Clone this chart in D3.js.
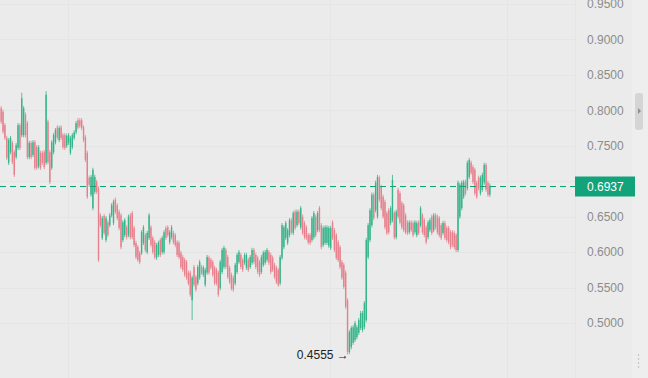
<!DOCTYPE html>
<html><head><meta charset="utf-8">
<script src="https://cdn.jsdelivr.net/npm/d3@7"></script>
<style>html,body{margin:0;padding:0;background:#ebebeb;}svg{display:block;}</style>
</head><body>
<svg id="chart" width="648" height="378"></svg>
<script>
const openP = [.803,.798,.779,.761,.726,.741,.754,.741,.734,.747,.779,.765,.765,.794,.782,.734,.754,.737,.755,.748,.721,.740,.740,.741,.726,.784,.741,.719,.741,.755,.776,.758,.776,.765,.765,.750,.754,.740,.748,.761,.769,.786,.786,.786,.776,.762,.740,.705,.681,.662,.685,.699,.690,.652,.620,.651,.617,.642,.638,.652,.641,.674,.666,.657,.652,.617,.624,.635,.624,.652,.655,.634,.613,.607,.599,.599,.613,.624,.600,.620,.635,.620,.614,.592,.596,.617,.600,.600,.634,.635,.614,.621,.627,.624,.614,.613,.599,.593,.589,.586,.571,.571,.532,.579,.565,.556,.564,.579,.568,.554,.571,.592,.589,.586,.578,.575,.571,.549,.572,.579,.603,.593,.578,.568,.564,.556,.572,.586,.596,.589,.585,.578,.589,.579,.585,.603,.596,.592,.586,.572,.582,.585,.589,.600,.596,.592,.582,.578,.575,.556,.592,.607,.620,.613,.624,.645,.627,.657,.638,.657,.635,.650,.641,.635,.624,.624,.617,.621,.650,.631,.662,.638,.610,.613,.613,.609,.606,.642,.631,.624,.614,.607,.586,.582,.571,.532,.459,.466,.472,.476,.480,.486,.493,.490,.494,.504,.593,.617,.638,.681,.659,.650,.705,.692,.678,.671,.655,.659,.641,.645,.655,.621,.688,.683,.669,.666,.652,.642,.628,.642,.641,.628,.624,.642,.638,.652,.645,.635,.621,.631,.650,.631,.652,.650,.648,.638,.627,.641,.634,.634,.628,.628,.627,.624,.603,.650,.662,.678,.699,.690,.706,.726,.720,.716,.698,.705,.683,.688,.698,.723,.698,.681];
const highP = [.806,.801,.782,.764,.761,.764,.757,.744,.754,.782,.782,.825,.806,.797,.785,.757,.757,.758,.758,.751,.751,.743,.743,.744,.827,.787,.744,.758,.768,.775,.779,.778,.779,.768,.768,.767,.768,.764,.768,.772,.785,.789,.789,.789,.779,.765,.743,.708,.709,.719,.709,.702,.693,.655,.651,.654,.651,.645,.655,.669,.674,.677,.669,.660,.655,.645,.648,.638,.653,.655,.658,.637,.616,.610,.602,.631,.638,.627,.630,.655,.638,.623,.617,.613,.616,.620,.623,.631,.637,.638,.631,.638,.630,.627,.617,.616,.602,.596,.592,.589,.574,.574,.567,.582,.568,.582,.589,.582,.581,.578,.596,.595,.592,.589,.581,.578,.574,.589,.606,.609,.606,.596,.581,.571,.567,.585,.599,.603,.599,.592,.599,.599,.592,.596,.606,.606,.599,.595,.589,.596,.602,.603,.606,.603,.599,.595,.585,.581,.578,.596,.641,.638,.644,.634,.648,.648,.658,.660,.660,.660,.665,.653,.644,.638,.627,.627,.651,.658,.653,.658,.665,.641,.637,.638,.638,.637,.637,.645,.634,.627,.617,.610,.589,.585,.574,.535,.490,.496,.497,.503,.497,.507,.517,.517,.531,.620,.641,.662,.684,.684,.701,.709,.708,.695,.681,.674,.658,.662,.665,.709,.658,.660,.691,.686,.672,.669,.655,.645,.645,.645,.644,.645,.644,.645,.665,.655,.648,.638,.645,.648,.653,.655,.655,.653,.651,.641,.644,.644,.637,.637,.631,.631,.630,.627,.701,.698,.701,.702,.702,.729,.733,.729,.723,.719,.701,.708,.708,.712,.726,.726,.701,.697];
const lowP = [.781,.767,.758,.730,.723,.738,.724,.706,.731,.744,.744,.762,.762,.762,.731,.731,.731,.734,.716,.716,.718,.716,.723,.717,.723,.724,.696,.716,.738,.752,.759,.755,.758,.745,.744,.747,.751,.737,.745,.758,.766,.773,.775,.772,.755,.727,.675,.692,.678,.659,.682,.682,.586,.635,.617,.624,.614,.621,.635,.649,.638,.654,.645,.631,.604,.614,.621,.618,.621,.618,.618,.607,.590,.586,.583,.596,.610,.600,.597,.617,.607,.597,.590,.589,.593,.593,.597,.597,.617,.621,.611,.618,.611,.607,.593,.590,.576,.572,.565,.561,.553,.537,.504,.551,.544,.553,.561,.568,.565,.551,.568,.568,.575,.565,.553,.553,.537,.546,.569,.576,.576,.562,.555,.546,.544,.553,.569,.583,.576,.572,.582,.575,.572,.576,.582,.583,.576,.569,.565,.569,.579,.582,.586,.582,.569,.572,.562,.555,.551,.553,.589,.604,.617,.610,.621,.625,.624,.631,.635,.638,.632,.624,.618,.617,.611,.610,.614,.618,.621,.628,.628,.604,.607,.610,.610,.606,.603,.617,.600,.589,.586,.576,.561,.548,.520,.4555,.456,.463,.469,.473,.477,.483,.490,.487,.491,.501,.590,.614,.635,.645,.656,.647,.671,.659,.647,.632,.624,.625,.638,.642,.618,.618,.647,.639,.632,.628,.625,.624,.625,.628,.621,.625,.621,.624,.635,.625,.621,.611,.618,.628,.624,.628,.632,.625,.621,.617,.624,.617,.614,.611,.604,.607,.604,.600,.600,.647,.659,.675,.680,.687,.703,.709,.696,.680,.675,.687,.680,.685,.695,.685,.678,.678];
const closeP = [.784,.770,.761,.733,.758,.761,.727,.709,.751,.779,.747,.817,.803,.765,.734,.754,.734,.755,.719,.719,.748,.719,.726,.720,.822,.727,.699,.755,.765,.772,.762,.775,.761,.748,.747,.764,.765,.761,.765,.769,.782,.776,.778,.775,.758,.730,.678,.695,.706,.716,.706,.685,.589,.638,.648,.627,.648,.624,.652,.666,.671,.657,.648,.634,.607,.642,.645,.621,.650,.621,.621,.610,.593,.589,.586,.628,.635,.603,.627,.652,.610,.600,.593,.610,.613,.596,.620,.628,.620,.624,.628,.635,.614,.610,.596,.593,.579,.575,.568,.564,.556,.540,.564,.554,.547,.579,.586,.571,.578,.575,.593,.571,.578,.568,.556,.556,.540,.586,.603,.606,.579,.565,.558,.549,.547,.582,.596,.600,.579,.575,.596,.596,.575,.593,.603,.586,.579,.572,.568,.593,.599,.600,.603,.585,.572,.575,.565,.558,.554,.593,.638,.635,.641,.631,.645,.628,.655,.634,.657,.641,.662,.627,.621,.620,.614,.613,.648,.655,.624,.655,.631,.607,.634,.635,.635,.634,.634,.620,.603,.592,.589,.579,.564,.551,.523,.459,.487,.493,.494,.500,.494,.504,.514,.514,.528,.617,.638,.659,.681,.648,.698,.706,.674,.662,.650,.635,.627,.628,.662,.702,.621,.657,.650,.642,.635,.631,.628,.627,.642,.631,.624,.642,.641,.627,.662,.628,.624,.614,.642,.645,.627,.652,.635,.628,.624,.620,.641,.620,.617,.614,.607,.610,.607,.603,.698,.695,.698,.699,.683,.726,.730,.712,.699,.683,.678,.690,.705,.709,.723,.688,.681,.6937];
const yTicks = [0.50,0.55,0.60,0.65,0.70,0.75,0.80,0.85,0.90,0.95];
const lastPrice = 0.6937;
const lowLabel = "0.4555";

const W = 648, H = 378;
const plotRight = 575;
const svg = d3.select("#chart");
const idx = d3.range(closeP.length);
const x = d3.scaleBand().domain(idx).range([0, 491]).padding(0.25);
const y = d3.scaleLinear().domain([0.5, 0.95]).range([323, 4]);
const green = "#36b48a", red = "#e6808c";

svg.append("rect").attr("width", W).attr("height", H).attr("fill", "#ebebeb");
svg.append("rect").attr("x", 632).attr("width", 16).attr("height", H).attr("fill", "#eeeeee");
// grid
const g = svg.append("g");
g.selectAll("line.h").data(yTicks).join("line").attr("class","h")
  .attr("x1", 0).attr("x2", plotRight).attr("y1", d => Math.round(y(d)) + 0.5).attr("y2", d => Math.round(y(d)) + 0.5)
  .attr("stroke", "#e5e5e5").attr("stroke-width", 1);
const vgrid = [68, 330, 507];
g.selectAll("line.v").data(vgrid).join("line").attr("class","v")
  .attr("x1", d => d + 0.5).attr("x2", d => d + 0.5).attr("y1", 0).attr("y2", H)
  .attr("stroke", "#e5e5e5");
svg.append("line").attr("x1", plotRight + 0.5).attr("x2", plotRight + 0.5).attr("y1", 0).attr("y2", H).attr("stroke", "#e6e6e6");

// candles
const c = svg.append("g");
const col = i => closeP[i] >= openP[i] ? green : red;
c.selectAll("line.w").data(idx).join("line").attr("class","w")
  .attr("x1", i => x(i) + x.bandwidth() / 2).attr("x2", i => x(i) + x.bandwidth() / 2)
  .attr("y1", i => y(highP[i])).attr("y2", i => y(lowP[i]))
  .attr("stroke", col).attr("stroke-width", 0.8);
c.selectAll("rect").data(idx).join("rect")
  .attr("x", i => x(i)).attr("width", x.bandwidth())
  .attr("y", i => y(Math.max(openP[i], closeP[i])))
  .attr("height", i => Math.max(1, Math.abs(y(openP[i]) - y(closeP[i]))))
  .attr("fill", col);

// last price line
const ly = Math.round(y(lastPrice)) + 0.5;
svg.append("line").attr("x1", 0).attr("x2", plotRight).attr("y1", ly).attr("y2", ly)
  .attr("stroke", "#10a377").attr("stroke-width", 1).attr("stroke-dasharray", "6,4");

// axis labels (labels under the last-price tag are hidden, as in the reference)
const fmt = d3.format(".4f");
svg.selectAll("text.t").data(yTicks.filter(d => Math.abs(y(d) - ly) > 13)).join("text").attr("class","t")
  .attr("x", 587).attr("y", d => y(d)).attr("dy", "0.35em")
  .attr("font-family", "Liberation Sans, Arial, sans-serif").attr("font-size", 12)
  .attr("fill", "#8c8c8c").text(d => fmt(d));

svg.append("rect").attr("x", 575).attr("y", ly - 10).attr("width", 60).attr("height", 20).attr("fill", "#12a37a");
svg.append("text").attr("x", 587).attr("y", ly).attr("dy", "0.35em")
  .attr("font-family", "Liberation Sans, Arial, sans-serif").attr("font-size", 12)
  .attr("fill", "#ffffff").text(fmt(lastPrice));

// low annotation
const lowIdx = d3.minIndex(lowP);
svg.append("text").attr("x", x(lowIdx) + 2).attr("y", y(+lowLabel)).attr("dy", "0.35em")
  .attr("text-anchor", "end")
  .attr("font-family", "Liberation Sans, Arial, sans-serif").attr("font-size", 12)
  .attr("fill", "#222").text(lowLabel + " \u2192");

// scrollbar handle
svg.append("rect").attr("x", 635).attr("y", 93).attr("width", 8).attr("height", 37).attr("rx", 3).attr("fill", "#d5d5d5");
svg.append("path").attr("d", "M638,108 L641,111 L638,114 Z").attr("fill", "#8f8f8f");
svg.selectAll("circle.d").data([355, 359, 363, 367]).join("circle").attr("class","d")
  .attr("cx", 638.5).attr("cy", d => d).attr("r", 0.7).attr("fill", "#b0b0b0");
</script>
</body></html>
